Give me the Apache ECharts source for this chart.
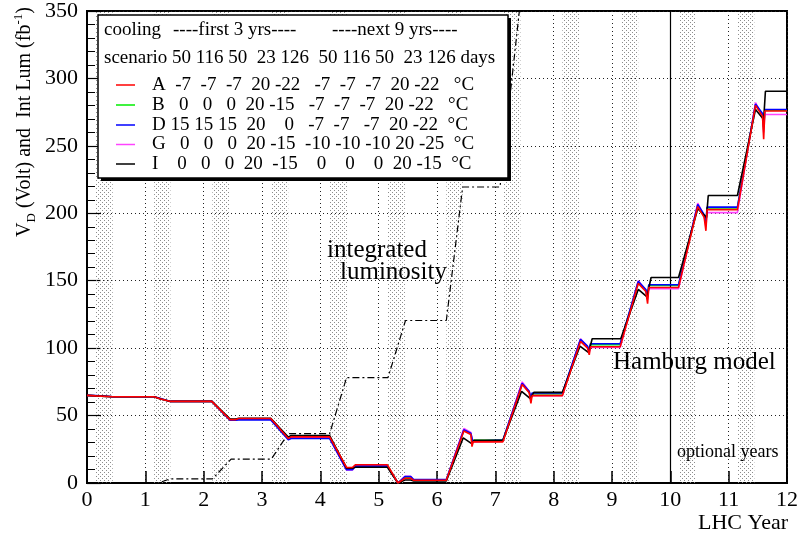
<!DOCTYPE html>
<html><head><meta charset="utf-8">
<script src="https://cdn.jsdelivr.net/npm/echarts@6/dist/echarts.min.js"></script>
<style>html,body{margin:0;padding:0;background:#fff}#c{width:801px;height:538px}</style>
</head><body><div id="c"></div>
<script>
// ---- data ----
const xTickLabels = ['0','1','2','3','4','5','6','7','8','9','10','11','12'];
const yTickLabels = ['0','50','100','150','200','250','300','350'];
// stippled (beam) periods per LHC year [start, end]
const bands = [[0.15,0.44],[1.15,1.43],[2.15,2.45],[3.16,3.45],[4.16,4.46],[5.16,5.45],
               [6.16,6.44],[7.14,7.43],[8.15,8.44],[9.16,9.45],[10.15,10.44],[11.15,11.44]];
// integrated luminosity (fb^-1)
const lumi = [[0,0],[1.22,0],[1.42,3],[2.15,3],[2.47,17.7],[3.16,17.7],[3.45,36.6],[4.16,36.6],
              [4.45,78.2],[5.16,78.2],[5.46,120.5],[6.16,120.5],[6.44,219.5],[7.08,219.5],[7.45,365],[12,365]];
// depletion voltage V_D (Volt) for each cooling scenario
const scenA = [[0,65],[0.15,64.6],[0.44,64],[1.15,64],[1.25,62.5],[1.43,60.5],[2.14,60.5],[2.45,47],[2.55,47],[2.6,47.8],[3.15,47.8],
  [3.45,33],[3.5,34.2],[4.16,34.2],[4.45,11.5],[4.55,11.5],[4.6,13.5],[5.15,13.5],[5.33,0],[5.45,3.5],[5.55,3.5],[5.6,2],[6.16,2],
  [6.46,38.5],[6.58,36],[6.6,27],[6.62,30.5],[7.13,30.5],[7.46,73],[7.58,67],[7.61,59],[7.63,64.8],[8.15,64.8],
  [8.46,105],[8.58,100],[8.61,95],[8.63,101],[9.14,101],[9.45,148],[9.58,142],[9.61,133],[9.63,145],[10.14,145],
  [10.47,205],[10.58,197],[10.61,187],[10.63,202.7],[11.15,202.7],[11.46,280],[11.58,272],[11.6,255],[11.62,275.8],[12,275.8]];
const scenB = [[0,65],[0.15,64.6],[0.44,64],[1.15,64],[1.25,62.5],[1.43,60.5],[2.14,60.5],[2.45,47],[2.55,47],[2.6,47.5],[3.15,47.5],
  [3.45,33],[3.5,34],[4.16,34],[4.45,11],[4.55,11],[4.6,13],[5.15,13],[5.33,0],[5.45,4],[5.55,4],[5.6,2.2],[6.16,2.2],
  [6.46,39],[6.58,36.5],[6.61,30],[6.63,31.6],[7.13,31.6],[7.46,73.5],[7.58,67.5],[7.61,62],[7.63,66],[8.15,66],
  [8.46,106],[8.58,101],[8.61,98],[8.63,102.5],[9.14,102.5],[9.45,149],[9.58,143],[9.61,137],[9.63,146.5],[10.14,146.5],
  [10.47,206],[10.58,198],[10.61,192],[10.63,204],[11.15,204],[11.46,280.5],[11.58,273],[11.6,262],[11.62,276.5],[12,276.5]];
const scenD = [[0,65],[0.15,64.8],[0.3,64.5],[0.44,64],[1.15,64],[1.25,62.8],[1.43,60.5],[2.14,60.5],[2.45,46.5],[2.55,46.5],[2.6,46.8],[3.15,46.8],
  [3.45,32],[3.5,33],[4.16,33],[4.45,9.8],[4.55,9.8],[4.6,12.5],[5.15,12.5],[5.33,0],[5.45,4.8],[5.55,4.8],[5.6,2.5],[6.16,2.5],
  [6.46,39.5],[6.58,37],[6.61,31],[6.63,31.8],[7.13,31.8],[7.46,74],[7.58,68],[7.61,63],[7.63,66.7],[8.15,66.7],
  [8.46,106.5],[8.58,101.5],[8.61,98],[8.63,103.3],[9.14,103.3],[9.45,149.5],[9.58,143.5],[9.61,138],[9.63,147],[10.14,147],
  [10.47,206.5],[10.58,199],[10.61,193],[10.63,204.6],[11.15,204.6],[11.46,281],[11.58,274],[11.6,264],[11.62,277],[12,277]];
const scenG = [[0,65],[0.15,64.6],[0.44,64],[1.15,64],[1.25,62.5],[1.43,60.5],[2.14,60.5],[2.45,47],[2.55,47],[2.6,47.5],[3.15,47.5],
  [3.45,32.5],[3.5,33.5],[4.16,33.5],[4.45,9.6],[4.55,9.6],[4.6,12.8],[5.15,12.8],[5.33,0],[5.45,5],[5.55,5],[5.6,2.3],[6.16,2.3],
  [6.46,40.5],[6.58,37.5],[6.61,30.5],[6.63,31],[7.13,31],[7.46,75],[7.58,68],[7.61,62],[7.63,64.8],[8.15,64.8],
  [8.46,107],[8.58,101],[8.61,97],[8.63,100.5],[9.14,100.5],[9.45,150],[9.58,143],[9.61,136],[9.63,144],[10.14,144],
  [10.47,207.5],[10.58,198],[10.61,190],[10.63,200.5],[11.15,200.5],[11.46,282],[11.58,272],[11.6,260],[11.62,273.3],[12,273.3]];
const scenI = [[0,65],[0.15,64.6],[0.44,64],[1.15,64],[1.25,62.5],[1.43,60.5],[2.14,60.5],[2.45,47.5],[2.55,47.5],[2.6,48],[3.15,48],
  [3.45,34],[3.5,35.2],[4.16,35.2],[4.45,11],[4.55,11],[4.6,11.7],[5.15,11.7],[5.33,0],[5.45,2.2],[5.55,2.2],[5.6,1.5],[6.16,1.5],
  [6.45,33.5],[6.6,29],[6.63,31.6],[7.13,31.6],[7.45,68],[7.6,62.5],[7.66,67.2],[8.15,67.2],
  [8.45,101.5],[8.6,96.7],[8.66,107],[9.15,107],[9.45,143.5],[9.6,138],[9.67,152.4],[10.14,152.4],
  [10.47,203.4],[10.62,197],[10.65,213.2],[11.15,213.2],[11.46,277],[11.6,269.5],[11.63,290.5],[12,290.5]];

const legendRows = [
  'A  -7  -7  -7  20 -22   -7  -7  -7  20 -22   \u00b0C',
  'B   0   0   0  20 -15   -7  -7  -7  20 -22   \u00b0C',
  'D 15 15 15  20    0   -7  -7   -7  20 -22  \u00b0C',
  'G   0   0   0  20 -15  -10 -10 -10 20 -25  \u00b0C',
  'I    0   0   0  20  -15    0    0    0  20 -15  \u00b0C'
];
const legendColors = ['#ff0000','#00ee00','#0000ff','#ff44ff','#000000'];

// ---- chart ----
const F = '"Liberation Serif", "Times New Roman", serif';
const pat = document.createElement('canvas');
pat.width = 4; pat.height = 4;
const pc = pat.getContext('2d');
pc.fillStyle = '#8c8c8c';
pc.fillRect(0,0,1,1); pc.fillRect(2,2,1,1);

const chart = echarts.init(document.getElementById('c'), null, {renderer:'canvas'});
const lineSeries = (name, data, color, z) => ({
  name, type:'line', data, symbol:'none', z, animation:false,
  lineStyle:{color, width:1.6}, itemStyle:{color}
});

const legendY = [85, 105, 125, 144.5, 164];
const graphic = [
  {type:'rect', shape:{x:101, y:18, width:410, height:163}, style:{fill:'#000'}, z:100},
  {type:'rect', shape:{x:98, y:15, width:410, height:163}, style:{fill:'#fff', stroke:'#000', lineWidth:1.5}, z:101},
  {type:'text', x:104, y:30, z:102, style:{text:'cooling', font:'19px '+F, fill:'#000', verticalAlign:'middle'}},
  {type:'text', x:173, y:30, z:102, style:{text:'----first 3 yrs----', font:'19px '+F, fill:'#000', verticalAlign:'middle'}},
  {type:'text', x:332, y:30, z:102, style:{text:'----next 9 yrs----', font:'19px '+F, fill:'#000', verticalAlign:'middle'}},
  {type:'text', x:104, y:58, z:102, style:{text:'scenario 50 116 50  23 126  50 116 50  23 126 days', font:'19px '+F, fill:'#000', verticalAlign:'middle'}}
];
legendRows.forEach((r,i) => {
  graphic.push({type:'line', z:102, shape:{x1:116, y1:legendY[i], x2:135, y2:legendY[i]}, style:{stroke:legendColors[i], lineWidth:1.5}});
  graphic.push({type:'text', x:152, y:legendY[i], z:102, style:{text:r, font:'19px '+F, fill:'#000', verticalAlign:'middle'}});
});
graphic.push(
  {type:'text', x:327, y:250, z:50, style:{text:'integrated', font:'25px '+F, fill:'#000', verticalAlign:'middle'}},
  {type:'text', x:340, y:272, z:50, style:{text:'luminosity', font:'25px '+F, fill:'#000', verticalAlign:'middle'}},
  {type:'text', x:613, y:362, z:50, style:{text:'Hamburg model', font:'25px '+F, fill:'#000', verticalAlign:'middle'}},
  {type:'text', x:677, y:452, z:50, style:{text:'optional years', font:'18px '+F, fill:'#000', verticalAlign:'middle'}},
  {type:'text', x:788, y:523, z:50, style:{text:'LHC Year', font:'22px '+F, fill:'#000', align:'right', verticalAlign:'middle'}},
  {type:'text', x:25, y:122, rotation:Math.PI/2, z:50, style:{
    text:'{a|V}{b|D}{a| (Volt) and  Int Lum (fb}{c|-1}{a|)}', align:'center', verticalAlign:'middle',
    rich:{a:{fontSize:20, fontFamily:F, fill:'#000', lineHeight:26},
          b:{fontSize:13, fontFamily:F, fill:'#000', verticalAlign:'bottom', lineHeight:13},
          c:{fontSize:13, fontFamily:F, fill:'#000', verticalAlign:'top', lineHeight:13}}}}
);

const option = {
  animation:false,
  backgroundColor:'#fff',
  grid:{left:87, right:13, top:7.5, bottom:55, show:true, borderColor:'#000', borderWidth:2, containLabel:false},
  xAxis:{type:'value', min:0, max:12, interval:1,
    axisLine:{show:true, lineStyle:{color:'#000', width:2}},
    axisTick:{inside:true, length:12, lineStyle:{color:'#000', width:1.5}},
    axisLabel:{color:'#000', fontFamily:F, fontSize:22, margin:6, formatter:(v)=>xTickLabels[Math.round(v)]},
    splitLine:{show:true, lineStyle:{color:'#222', width:1, type:[1,3]}}},
  yAxis:{type:'value', min:0, max:350, interval:50,
    axisLine:{show:true, lineStyle:{color:'#000', width:2}},
    axisTick:{inside:true, length:14, lineStyle:{color:'#000', width:1.2}},
    minorTick:{show:true, splitNumber:5, length:8, lineStyle:{color:'#000', width:1}},
    axisLabel:{color:'#000', fontFamily:F, fontSize:22, margin:9, formatter:(v)=>yTickLabels[Math.round(v/50)]},
    splitLine:{show:true, lineStyle:{color:'#222', width:1, type:[1,3]}}},
  graphic,
  series:[
    {name:'lumi', type:'line', data:lumi, symbol:'none', z:3, animation:false, clip:true,
     lineStyle:{color:'#000', width:1.2, type:[7,3,2,3]},
     markArea:{silent:true, itemStyle:{color:{image:pat, repeat:'repeat'}}, data:bands.map(b=>[{xAxis:b[0]},{xAxis:b[1]}])},
     markLine:{silent:true, symbol:'none', label:{show:false}, lineStyle:{color:'#000', width:1.2, type:'solid'}, data:[{xAxis:10}]}},
    lineSeries('B', scenB, '#00ee00', 4),
    lineSeries('G', scenG, '#ff44ff', 5),
    lineSeries('D', scenD, '#0000ff', 6),
    lineSeries('I', scenI, '#000000', 7),
    lineSeries('A', scenA, '#ff0000', 8)
  ]
};
chart.setOption(option);
</script></body></html>
